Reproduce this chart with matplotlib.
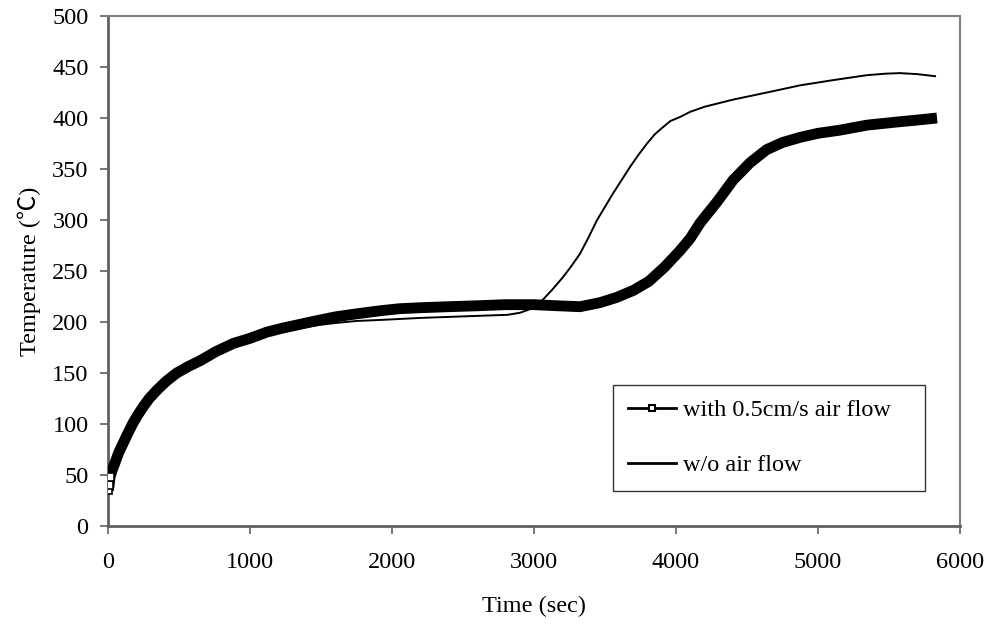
import matplotlib
matplotlib.use("Agg")
import matplotlib.pyplot as plt
from matplotlib.lines import Line2D

# with 0.5 cm/s air flow
t_air = [2, 8, 14, 30, 49, 75, 106, 140, 176, 210, 248, 290, 343, 410, 484, 560, 648, 760, 882,
         1000, 1117, 1229, 1329, 1460, 1600, 1750, 1915, 2050, 2200, 2400, 2620, 2800, 3000,
         3150, 3324, 3465, 3580, 3700, 3810, 3920, 4028, 4100, 4169, 4290, 4401, 4520,
         4638, 4750, 4873, 5000, 5150, 5345, 5550, 5700, 5838]
T_air = [35, 40, 48, 55, 62, 72, 81, 91, 101, 109, 117, 125, 133, 142, 150, 156, 162, 171, 179,
         184, 190, 194, 197, 201, 205, 208, 211, 213, 214, 215, 216, 217, 217,
         216, 215, 219, 224, 231, 240, 254, 270, 282, 297, 318, 339, 356,
         369, 376, 381, 385, 388, 393, 396, 398, 400]

# without air flow
t_no = [2, 30, 106, 176, 248, 343, 484, 648, 882, 1000, 1117, 1229, 1352, 1480, 1600, 1750,
        1915, 2200, 2500, 2700, 2810, 2900, 2960, 3010, 3063, 3130, 3204, 3264, 3324, 3384,
        3444, 3500, 3556, 3616, 3676, 3736, 3796, 3850, 3908, 3960, 4028, 4099, 4200, 4401,
        4640, 4873, 5100, 5345, 5480, 5577, 5700, 5824]
T_no = [35, 55, 81, 101, 117, 133, 150, 162, 179, 184, 189, 192, 194, 197, 199, 201,
        202, 204, 205.5, 206.5, 207, 209, 212, 216, 222, 232, 244, 255, 267, 283,
        300, 313, 326, 339, 352, 364, 375, 384, 391, 397, 401, 406, 411, 418,
        425, 432, 437, 442, 443.5, 444, 443, 441]

label_air = "with 0.5cm/s air flow"
label_no = "w/o air flow"

fam = ["Liberation Serif", "Noto Sans CJK SC", "DejaVu Sans"]
plt.rcParams["font.family"] = fam

fig = plt.figure(figsize=(9.93, 6.25), dpi=100)
ax = fig.add_axes([0.1088, 0.1584, 0.858, 0.816])

ax.plot(t_no, T_no, color="black", lw=1.4, zorder=2, solid_joinstyle="round")
ax.plot(t_air, T_air, color="black", lw=7.8, solid_capstyle="butt",
        solid_joinstyle="round", zorder=3)
ax.plot(t_air[:3], T_air[:3], ls="none", marker="s", ms=6, mfc="white", mec="black",
        mew=1.2, zorder=4)

ax.set_xlim(0, 6000)
ax.set_ylim(0, 500)
ax.set_xticks(range(0, 6001, 1000))
ax.set_yticks(range(0, 501, 50))
ax.tick_params(direction="out", length=6, width=1.2, color="#606060", labelsize=17.5, pad=8)
ax.tick_params(axis="x", pad=13)
for s in ax.spines.values():
    s.set_color("#808080")
    s.set_linewidth(1.5)
ax.spines["left"].set_color("#606060")
ax.spines["bottom"].set_color("#606060")
ax.spines["left"].set_linewidth(2)
ax.spines["bottom"].set_linewidth(2)

ax.set_xlabel("Time (sec)", fontsize=17.5, labelpad=16)
ax.set_ylabel("Temperature (℃)", fontsize=17.5, labelpad=8)

handles = [
    Line2D([], [], color="black", lw=2, marker="s", ms=5, mfc="white", mec="black", mew=1.5),
    Line2D([], [], color="black", lw=2),
]
leg = ax.legend(handles, [label_air, label_no], loc="lower left",
                bbox_to_anchor=(0.593, 0.069, 0.366, 0.219), mode="expand",
                fontsize=17.5, frameon=True, fancybox=False, edgecolor="black",
                handlelength=2.0, handletextpad=0.25, labelspacing=1.35, borderpad=0.6,
                borderaxespad=0)
leg.get_frame().set_linewidth(1.0)

fig.savefig("out.png", dpi=100)
